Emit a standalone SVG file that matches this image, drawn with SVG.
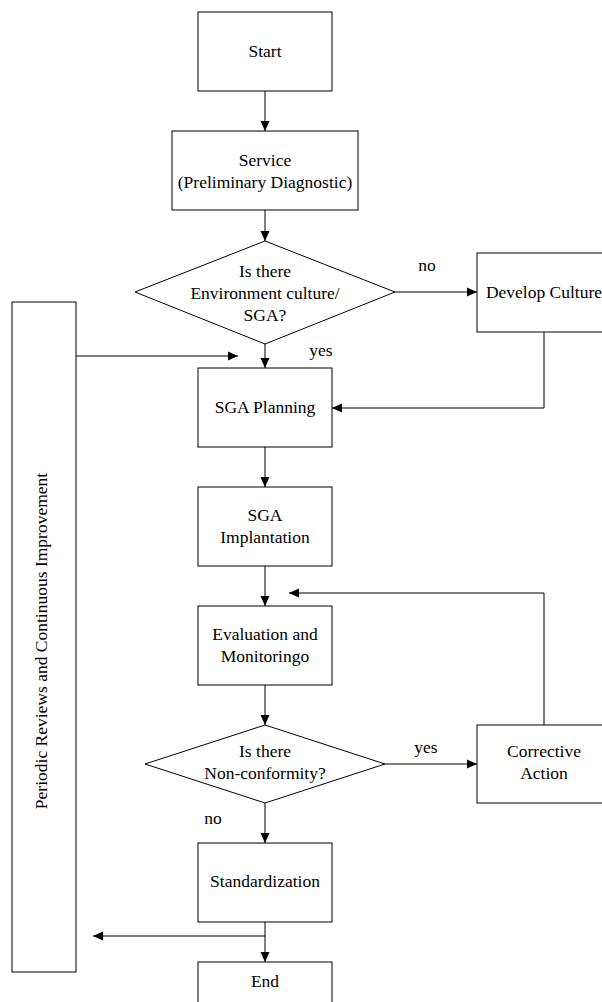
<svg xmlns="http://www.w3.org/2000/svg" width="602" height="1002" viewBox="0 0 602 1002">
<style>
.box{fill:#fff;stroke:#000;stroke-width:1}
.ln{fill:none;stroke:#000;stroke-width:1}
text{font-family:"Liberation Serif","Times New Roman",serif;font-size:17.5px;fill:#000;text-anchor:middle}
</style>
<defs>
<marker id="ah" markerUnits="userSpaceOnUse" markerWidth="10" markerHeight="10" viewBox="0 0 10 10" refX="10" refY="5" orient="auto">
<path d="M0,0.5 L10,5 L0,9.5 Z" fill="#000"/>
</marker>
</defs>
<rect width="602" height="1002" fill="#fff"/>
<g id="connectors">
<line class="ln" x1="265" y1="91" x2="265" y2="131" marker-end="url(#ah)"/>
<line class="ln" x1="265" y1="210" x2="265" y2="241" marker-end="url(#ah)"/>
<line class="ln" x1="395" y1="292" x2="477" y2="292" marker-end="url(#ah)"/>
<line class="ln" x1="265" y1="344" x2="265" y2="368" marker-end="url(#ah)"/>
<polyline class="ln" points="544,332 544,408 332,408" marker-end="url(#ah)"/>
<line class="ln" x1="76" y1="356" x2="238" y2="356" marker-end="url(#ah)"/>
<line class="ln" x1="265" y1="447" x2="265" y2="487" marker-end="url(#ah)"/>
<line class="ln" x1="265" y1="566" x2="265" y2="606" marker-end="url(#ah)"/>
<polyline class="ln" points="544,725 544,593 289,593" marker-end="url(#ah)"/>
<line class="ln" x1="265" y1="685" x2="265" y2="725" marker-end="url(#ah)"/>
<line class="ln" x1="385" y1="764" x2="477" y2="764" marker-end="url(#ah)"/>
<line class="ln" x1="265" y1="803" x2="265" y2="843" marker-end="url(#ah)"/>
<line class="ln" x1="265" y1="922" x2="265" y2="962" marker-end="url(#ah)"/>
<line class="ln" x1="265" y1="936" x2="93" y2="936" marker-end="url(#ah)"/>
<text x="427" y="271">no</text>
<text x="321" y="356">yes</text>
<text x="426" y="753">yes</text>
<text x="213" y="824">no</text>
</g>
<g id="start"><rect class="box" x="198" y="12" width="134" height="79"/><text x="265" y="57">Start</text></g>
<g id="service"><rect class="box" x="172" y="131" width="186" height="79"/><text x="265" y="166">Service</text><text x="265" y="188">(Preliminary Diagnostic)</text></g>
<g id="decision1"><polygon class="box" points="265,241 395,292 265,344 135,292"/><text x="265" y="277">Is there</text><text x="265" y="299">Environment culture/</text><text x="265" y="321">SGA?</text></g>
<g id="develop"><rect class="box" x="477" y="253" width="134" height="79"/><text x="544" y="298">Develop Culture</text></g>
<g id="periodic"><rect class="box" x="12" y="302" width="64" height="670"/><text transform="translate(47,641) rotate(-90)">Periodic Reviews and Continuous Improvement</text></g>
<g id="planning"><rect class="box" x="198" y="368" width="134" height="79"/><text x="265" y="413">SGA Planning</text></g>
<g id="implantation"><rect class="box" x="198" y="487" width="134" height="79"/><text x="265" y="521">SGA</text><text x="265" y="543">Implantation</text></g>
<g id="evaluation"><rect class="box" x="198" y="606" width="134" height="79"/><text x="265" y="640">Evaluation and</text><text x="265" y="662">Monitoringo</text></g>
<g id="decision2"><polygon class="box" points="265,725 385,764 265,803 145,764"/><text x="265" y="757">Is there</text><text x="265" y="779">Non-conformity?</text></g>
<g id="corrective"><rect class="box" x="477" y="725" width="134" height="78"/><text x="544" y="757">Corrective</text><text x="544" y="779">Action</text></g>
<g id="standardization"><rect class="box" x="198" y="843" width="134" height="79"/><text x="265" y="887">Standardization</text></g>
<g id="end"><rect class="box" x="198" y="962" width="134" height="79"/><text x="265" y="987">End</text></g>
</svg>
